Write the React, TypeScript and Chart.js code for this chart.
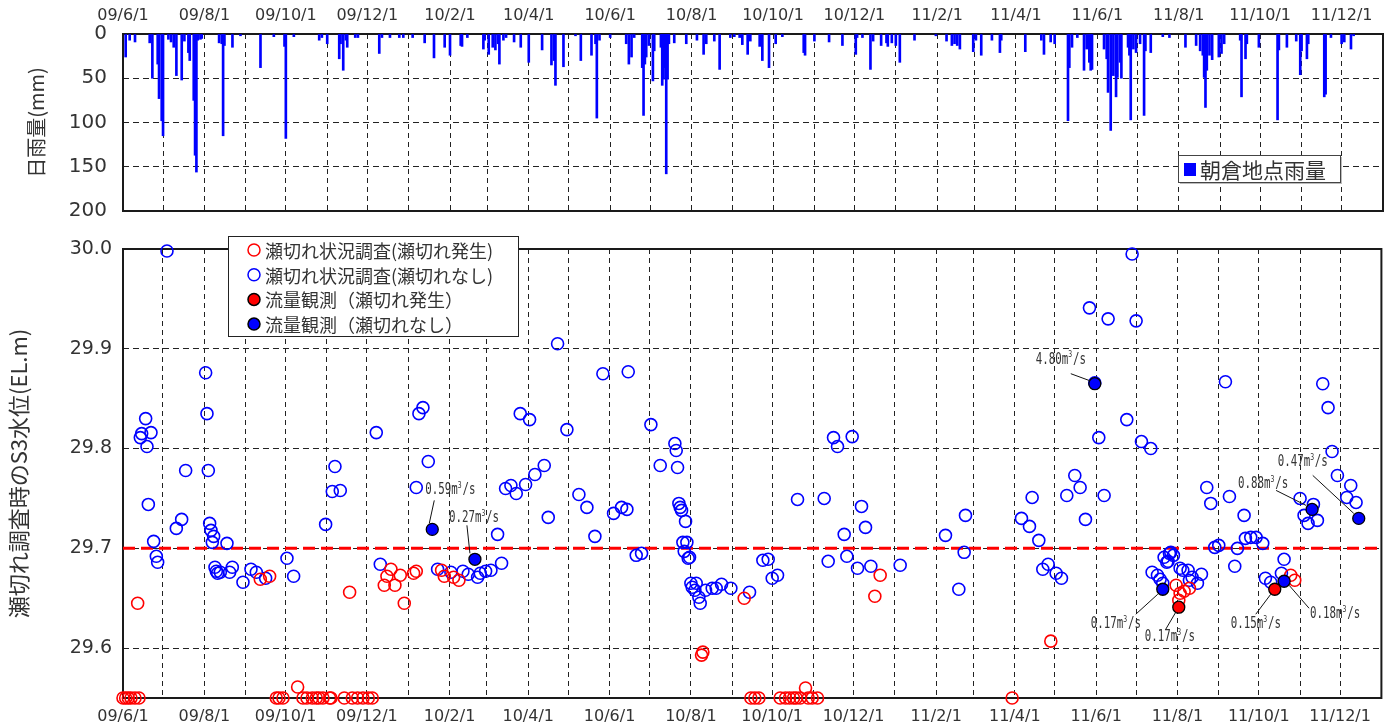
import React, { useEffect, useRef } from "react";
import { Chart, registerables } from "chart.js";

Chart.register(...registerables);

// ---------- time axis ----------
const X_START = "2009-06-01";
const X_END = "2012-01-01";
const xTickLabels = [
  "09/6/1", "09/8/1", "09/10/1", "09/12/1", "10/2/1", "10/4/1", "10/6/1", "10/8/1",
  "10/10/1", "10/12/1", "11/2/1", "11/4/1", "11/6/1", "11/8/1", "11/10/1", "11/12/1",
];

// ---------- daily rainfall (朝倉地点, mm) ----------
const rainDates = [
  "2009-06-03", "2009-06-06", "2009-06-10", "2009-06-21", "2009-06-23", "2009-06-27", "2009-06-28", "2009-06-30",
  "2009-07-01", "2009-07-05", "2009-07-07", "2009-07-09", "2009-07-11", "2009-07-15", "2009-07-17", "2009-07-20",
  "2009-07-21", "2009-07-24", "2009-07-25", "2009-07-26", "2009-07-27", "2009-07-29", "2009-07-30", "2009-08-12",
  "2009-08-14", "2009-08-15", "2009-08-16", "2009-08-22", "2009-08-28", "2009-09-12", "2009-09-22", "2009-09-30",
  "2009-10-01", "2009-10-07", "2009-10-26", "2009-10-28", "2009-11-01", "2009-11-10", "2009-11-11", "2009-11-13",
  "2009-11-15", "2009-11-16", "2009-11-22", "2009-11-24", "2009-12-10", "2009-12-12", "2009-12-18", "2009-12-25",
  "2009-12-28", "2010-01-04", "2010-01-13", "2010-01-20", "2010-01-28", "2010-02-01", "2010-02-09", "2010-02-10",
  "2010-02-14", "2010-02-26", "2010-02-27", "2010-03-02", "2010-03-05", "2010-03-07", "2010-03-09", "2010-03-10",
  "2010-03-13", "2010-03-15", "2010-03-21", "2010-03-26", "2010-04-01", "2010-04-11", "2010-04-18", "2010-04-20",
  "2010-04-21", "2010-04-27", "2010-05-06", "2010-05-10", "2010-05-18", "2010-05-21", "2010-05-22", "2010-05-24",
  "2010-06-01", "2010-06-13", "2010-06-15", "2010-06-17", "2010-06-19", "2010-06-25", "2010-06-26", "2010-06-27",
  "2010-06-28", "2010-06-30", "2010-07-03", "2010-07-04", "2010-07-09", "2010-07-10", "2010-07-11", "2010-07-12",
  "2010-07-13", "2010-07-14", "2010-07-15", "2010-07-19", "2010-07-28", "2010-08-05", "2010-08-10", "2010-08-12",
  "2010-08-18", "2010-08-22", "2010-08-30", "2010-09-02", "2010-09-06", "2010-09-08", "2010-09-12", "2010-09-14",
  "2010-09-21", "2010-09-23", "2010-09-28", "2010-10-03", "2010-10-08", "2010-10-24", "2010-10-25", "2010-11-01",
  "2010-11-12", "2010-11-22", "2010-12-02", "2010-12-03", "2010-12-07", "2010-12-13", "2010-12-15", "2010-12-21",
  "2010-12-25", "2010-12-26", "2010-12-29", "2011-01-01", "2011-01-04", "2011-01-15", "2011-01-31", "2011-02-08",
  "2011-02-12", "2011-02-14", "2011-02-16", "2011-02-18", "2011-02-28", "2011-03-02", "2011-03-06", "2011-03-14",
  "2011-03-20", "2011-03-21", "2011-04-08", "2011-04-20", "2011-04-22", "2011-04-27", "2011-04-30", "2011-05-10",
  "2011-05-11", "2011-05-13", "2011-05-17", "2011-05-22", "2011-05-24", "2011-05-26", "2011-05-27", "2011-05-28",
  "2011-06-06", "2011-06-08", "2011-06-09", "2011-06-11", "2011-06-13", "2011-06-15", "2011-06-16", "2011-06-18",
  "2011-06-19", "2011-06-24", "2011-06-25", "2011-06-26", "2011-06-28", "2011-06-30", "2011-07-03", "2011-07-06",
  "2011-07-07", "2011-07-11", "2011-07-20", "2011-07-25", "2011-08-06", "2011-08-14", "2011-08-17", "2011-08-19",
  "2011-08-20", "2011-08-21", "2011-08-22", "2011-08-24", "2011-08-26", "2011-08-31", "2011-09-02", "2011-09-04",
  "2011-09-16", "2011-09-17", "2011-09-20", "2011-09-21", "2011-09-30", "2011-10-14", "2011-10-15", "2011-10-21",
  "2011-10-28", "2011-10-31", "2011-11-01", "2011-11-05", "2011-11-06", "2011-11-18", "2011-11-19", "2011-11-23",
  "2011-12-01", "2011-12-03", "2011-12-08", "2011-12-10",
];
const rainMm = [
  26, 7, 9, 10, 50, 34, 73, 98,
  115, 6, 9, 15, 47, 52, 8, 21,
  30, 75, 137, 156, 7, 6, 5, 10,
  11, 115, 13, 15, 2, 38, 3, 14,
  118, 3, 7, 4, 11, 28, 11, 41,
  7, 15, 4, 4, 22, 4, 4, 4,
  4, 4, 10, 27, 15, 24, 13, 14,
  4, 17, 7, 23, 15, 18, 11, 34,
  7, 4, 9, 15, 32, 18, 35, 30,
  58, 37, 2, 30, 24, 11, 95, 7,
  4, 11, 34, 26, 4, 38, 92, 34,
  26, 13, 53, 19, 15, 58, 51, 38,
  158, 51, 11, 10, 11, 7, 23, 11,
  8, 40, 4, 3, 4, 12, 23, 8,
  14, 30, 38, 11, 3, 21, 24, 8,
  9, 13, 23, 4, 4, 40, 8, 13,
  10, 14, 10, 13, 32, 7, 2, 8,
  13, 11, 13, 17, 20, 7, 24, 7,
  21, 7, 20, 7, 23, 9, 11, 98,
  38, 15, 4, 41, 17, 32, 41, 40,
  17, 28, 66, 109, 47, 71, 49, 32,
  50, 15, 24, 97, 17, 21, 11, 92,
  19, 21, 3, 4, 15, 13, 19, 24,
  49, 83, 41, 24, 29, 26, 22, 11,
  7, 71, 28, 11, 15, 97, 18, 15,
  8, 46, 19, 28, 11, 71, 68, 4,
  11, 9, 17, 2,
];

// ---------- S3 water level at survey time (EL.m) ----------
// 瀬切れ状況調査（瀬切れ発生）
const surveyBreakDates = [
  "2009-06-01", "2009-06-03", "2009-06-05", "2009-06-07", "2009-06-10", "2009-06-12", "2009-06-13", "2009-09-12",
  "2009-09-19", "2009-09-24", "2009-09-26", "2009-09-29", "2009-10-10", "2009-10-14", "2009-10-17", "2009-10-21",
  "2009-10-24", "2009-10-26", "2009-10-29", "2009-11-03", "2009-11-04", "2009-11-14", "2009-11-18", "2009-11-20",
  "2009-11-24", "2009-11-28", "2009-12-02", "2009-12-05", "2009-12-14", "2009-12-16", "2009-12-19", "2009-12-22",
  "2009-12-26", "2009-12-29", "2010-01-05", "2010-01-07", "2010-01-26", "2010-01-28", "2010-02-04", "2010-02-08",
  "2010-08-09", "2010-08-10", "2010-09-10", "2010-09-15", "2010-09-18", "2010-09-21", "2010-10-07", "2010-10-11",
  "2010-10-14", "2010-10-17", "2010-10-19", "2010-10-22", "2010-10-26", "2010-10-28", "2010-10-31", "2010-11-04",
  "2010-12-17", "2010-12-21", "2011-03-30", "2011-04-28", "2011-07-31", "2011-08-02", "2011-08-03", "2011-08-06",
  "2011-08-10", "2011-10-25", "2011-10-28",
];
const surveyBreakLevels = [
  29.55, 29.55, 29.55, 29.55, 29.55, 29.645, 29.55, 29.669,
  29.672, 29.55, 29.55, 29.55, 29.561, 29.55, 29.55, 29.55,
  29.55, 29.55, 29.55, 29.55, 29.55, 29.55, 29.656, 29.55,
  29.55, 29.55, 29.55, 29.55, 29.663, 29.672, 29.679, 29.663,
  29.673, 29.645, 29.675, 29.677, 29.678, 29.672, 29.671, 29.668,
  29.593, 29.596, 29.65, 29.55, 29.55, 29.55, 29.55, 29.55,
  29.55, 29.55, 29.55, 29.55, 29.56, 29.55, 29.55, 29.55,
  29.652, 29.673, 29.55, 29.607, 29.663, 29.648, 29.655, 29.657,
  29.66, 29.673, 29.668,
];

// 瀬切れ状況調査（瀬切れなし）
const surveyFlowDates = [
  "2009-06-14", "2009-06-15", "2009-06-18", "2009-06-19", "2009-06-20", "2009-06-22", "2009-06-24", "2009-06-26",
  "2009-06-27", "2009-07-04", "2009-07-11", "2009-07-15", "2009-07-18", "2009-08-02", "2009-08-03", "2009-08-04",
  "2009-08-05", "2009-08-06", "2009-08-07", "2009-08-08", "2009-08-09", "2009-08-10", "2009-08-11", "2009-08-13",
  "2009-08-18", "2009-08-20", "2009-08-22", "2009-08-30", "2009-09-05", "2009-09-09", "2009-09-16", "2009-10-02",
  "2009-10-07", "2009-10-31", "2009-11-05", "2009-11-07", "2009-11-11", "2009-12-08", "2009-12-11", "2010-01-07",
  "2010-01-09", "2010-01-12", "2010-01-16", "2010-01-23", "2010-02-02", "2010-02-11", "2010-02-15", "2010-02-22",
  "2010-02-24", "2010-02-28", "2010-03-04", "2010-03-09", "2010-03-12", "2010-03-15", "2010-03-19", "2010-03-23",
  "2010-03-26", "2010-03-30", "2010-04-02", "2010-04-06", "2010-04-13", "2010-04-16", "2010-04-23", "2010-04-30",
  "2010-05-09", "2010-05-15", "2010-05-21", "2010-05-27", "2010-06-04", "2010-06-10", "2010-06-14", "2010-06-15",
  "2010-06-21", "2010-06-25", "2010-07-02", "2010-07-09", "2010-07-20", "2010-07-21", "2010-07-22", "2010-07-23",
  "2010-07-24", "2010-07-25", "2010-07-26", "2010-07-27", "2010-07-28", "2010-07-29", "2010-07-30", "2010-07-31",
  "2010-08-01", "2010-08-02", "2010-08-04", "2010-08-05", "2010-08-07", "2010-08-08", "2010-08-12", "2010-08-17",
  "2010-08-20", "2010-08-24", "2010-08-31", "2010-09-14", "2010-09-24", "2010-09-28", "2010-10-01", "2010-10-05",
  "2010-10-20", "2010-11-09", "2010-11-12", "2010-11-16", "2010-11-19", "2010-11-24", "2010-11-26", "2010-11-30",
  "2010-12-04", "2010-12-07", "2010-12-10", "2010-12-14", "2011-01-05", "2011-02-08", "2011-02-18", "2011-02-22",
  "2011-02-23", "2011-04-06", "2011-04-12", "2011-04-14", "2011-04-19", "2011-04-22", "2011-04-26", "2011-05-02",
  "2011-05-06", "2011-05-10", "2011-05-16", "2011-05-20", "2011-05-24", "2011-05-27", "2011-05-31", "2011-06-03",
  "2011-06-07", "2011-06-10", "2011-06-24", "2011-06-28", "2011-07-01", "2011-07-05", "2011-07-12", "2011-07-13",
  "2011-07-17", "2011-07-19", "2011-07-21", "2011-07-22", "2011-07-24", "2011-07-25", "2011-07-26", "2011-07-27",
  "2011-07-29", "2011-08-03", "2011-08-05", "2011-08-09", "2011-08-10", "2011-08-12", "2011-08-16", "2011-08-19",
  "2011-08-23", "2011-08-26", "2011-08-29", "2011-09-01", "2011-09-06", "2011-09-09", "2011-09-13", "2011-09-15",
  "2011-09-20", "2011-09-21", "2011-09-25", "2011-09-29", "2011-10-04", "2011-10-06", "2011-10-10", "2011-10-18",
  "2011-10-20", "2011-11-01", "2011-11-04", "2011-11-07", "2011-11-11", "2011-11-14", "2011-11-18", "2011-11-22",
  "2011-11-25", "2011-11-29", "2011-12-06", "2011-12-09", "2011-12-13",
];
const surveyFlowLevels = [
  29.811, 29.815, 29.83, 29.802, 29.744, 29.816, 29.707, 29.692,
  29.686, 29.998, 29.72, 29.729, 29.778, 29.876, 29.835, 29.778,
  29.725, 29.718, 29.706, 29.712, 29.681, 29.677, 29.675, 29.676,
  29.705, 29.676, 29.681, 29.666, 29.679, 29.676, 29.67, 29.69,
  29.672, 29.724, 29.757, 29.782, 29.758, 29.816, 29.684, 29.761,
  29.835, 29.841, 29.787, 29.679, 29.676, 29.677, 29.674, 29.671,
  29.675, 29.677, 29.678, 29.714, 29.685, 29.76, 29.763, 29.755,
  29.835, 29.764, 29.829, 29.774, 29.783, 29.731, 29.905, 29.819,
  29.754, 29.741, 29.712, 29.875, 29.735, 29.741, 29.739, 29.877,
  29.693, 29.695, 29.824, 29.783, 29.805, 29.798, 29.781, 29.745,
  29.741, 29.738, 29.706, 29.697, 29.727, 29.706, 29.69, 29.691,
  29.665, 29.661, 29.658, 29.665, 29.651, 29.645, 29.658, 29.66,
  29.66, 29.664, 29.66, 29.656, 29.688, 29.689, 29.67, 29.673,
  29.749, 29.75, 29.687, 29.811, 29.802, 29.714, 29.692, 29.812,
  29.68, 29.742, 29.721, 29.682, 29.683, 29.713, 29.659, 29.696,
  29.733, 29.73, 29.722, 29.751, 29.708, 29.679, 29.684, 29.675,
  29.67, 29.753, 29.773, 29.761, 29.729, 29.941, 29.866, 29.811,
  29.753, 29.93, 29.829, 29.995, 29.928, 29.807, 29.8, 29.676,
  29.673, 29.669, 29.665, 29.691, 29.686, 29.687, 29.695, 29.696,
  29.693, 29.68, 29.678, 29.678, 29.668, 29.671, 29.665, 29.674,
  29.761, 29.745, 29.701, 29.703, 29.867, 29.752, 29.682, 29.7,
  29.733, 29.71, 29.711, 29.711, 29.705, 29.67, 29.666, 29.675,
  29.689, 29.75, 29.733, 29.725, 29.744, 29.728, 29.865, 29.841,
  29.797, 29.773, 29.751, 29.763, 29.746,
];

// 流量観測（瀬切れ発生） with measured discharge (m3/s)
const gaugingBreakDates = ["2011-08-02", "2011-10-13"];
const gaugingBreakLevels = [29.641, 29.659];
const gaugingBreakQ = ["0.17", "0.15"];

// 流量観測（瀬切れなし） with measured discharge (m3/s)
const gaugingFlowDates = ["2010-01-19", "2010-02-20", "2011-05-31", "2011-07-21", "2011-10-20", "2011-11-10", "2011-12-15"];
const gaugingFlowLevels = [29.719, 29.689, 29.865, 29.659, 29.667, 29.739, 29.73];
const gaugingFlowQ = ["0.59", "0.27", "4.80", "0.17", "0.18", "0.88", "0.47"];

// Reference level drawn as the red dashed line
const thresholdLevel = 29.7;

// ---------- label placement for discharge callouts (pixel offsets from the point) ----------
type Callout = { t: [number, number]; a: [number, number]; b: [number, number] };
const gaugingBreakCallouts: Callout[] = [
  { t: [-34, 30], a: [-13, 22], b: [-3, 5] },
  { t: [-44, 35], a: [-19, 25], b: [-4, 5] },
];
const gaugingFlowCallouts: Callout[] = [
  { t: [-7, -39], a: [2, -29], b: [-3, -6] },
  { t: [-26, -41], a: [-8, -34], b: [-5, -6] },
  { t: [-59, -24], a: [-24, -10], b: [-5, -3] },
  { t: [-72, 35], a: [-27, 25], b: [-5, 5] },
  { t: [26, 33], a: [25, 27], b: [5, 4] },
  { t: [-74, -25], a: [-36, -19], b: [-6, -4] },
  { t: [-81, -56], a: [-46, -43], b: [-5, -5] },
];

// ---------- helpers ----------
const DAY_MS = 86400000;
const t0 = Date.parse(X_START + "T00:00:00Z");
const dayOf = (d: string) => Math.round((Date.parse(d + "T00:00:00Z") - t0) / DAY_MS);
const pad2 = (n: number) => String(n).padStart(2, "0");
const dayOfLabel = (l: string) => {
  const [y, m, d] = l.split("/").map(Number);
  return dayOf(`${2000 + y}-${pad2(m)}-${pad2(d)}`);
};
const X_MAX = dayOf(X_END);

// month-start gridlines
const gridDays: number[] = [];
for (let y = 2009, m = 6; y < 2012; ) {
  gridDays.push(dayOf(`${y}-${pad2(m)}-01`));
  m++;
  if (m > 12) { m = 1; y++; }
}
const labelByDay = new Map<number, string>(xTickLabels.map((l) => [dayOfLabel(l), l]));

const pts = (dates: string[], vals: number[]) => dates.map((d, i) => ({ x: dayOf(d), y: vals[i] }));

const TEXT = "#333";
const GRID = "#222";
const CJK = "'Noto Sans CJK JP', 'Noto Sans CJK SC', sans-serif";
const NUM = "'DejaVu Sans', sans-serif";
const W = 1389;
const H = 726;
const MARK_R = 6;

function xAxis(position: "top" | "bottom", height: number): any {
  return {
    type: "linear",
    position,
    min: 0,
    max: X_MAX,
    offset: false,
    afterBuildTicks: (s: any) => { s.ticks = gridDays.map((v) => ({ value: v })); },
    afterFit: (s: any) => { s.height = height; s.paddingLeft = 0; s.paddingRight = 0; },
    ticks: {
      autoSkip: false, maxRotation: 0, minRotation: 0, padding: 9, color: TEXT,
      font: { family: NUM, size: 16 },
      callback: (v: number) => labelByDay.get(v) ?? "",
    },
    grid: { color: GRID, lineWidth: 1, drawTicks: false, offset: false },
    border: { display: false, dash: [5, 4] },
  };
}

function yAxis(opts: any): any {
  return {
    type: "linear",
    position: "left",
    min: opts.min,
    max: opts.max,
    reverse: !!opts.reverse,
    afterBuildTicks: (s: any) => { s.ticks = opts.ticks.map((v: number) => ({ value: v })); },
    afterFit: (s: any) => { s.width = 123; s.paddingTop = 0; s.paddingBottom = 0; },
    ticks: {
      padding: opts.padding, color: TEXT, font: { family: NUM, size: opts.size },
      callback: opts.format,
    },
    grid: { color: GRID, lineWidth: 1, drawTicks: false },
    border: { display: false, dash: [6, 4] },
    title: {
      display: true, text: opts.title, color: TEXT,
      font: { family: CJK, size: opts.titleSize },
      padding: { top: opts.titleOffset, bottom: 0 },
    },
  };
}

const framePlugin = {
  id: "frame",
  beforeDatasetsDraw(chart: any) {
    const { ctx, chartArea: a } = chart;
    ctx.save();
    ctx.strokeStyle = "#1a1a1a";
    ctx.lineWidth = 2;
    ctx.strokeRect(a.left, a.top, a.right - a.left, a.bottom - a.top);
    ctx.restore();
  },
};

const rainLegend = {
  id: "rainLegend",
  afterDraw(chart: any) {
    const { ctx, chartArea: a } = chart;
    const ds = chart.data.datasets[0];
    const left = a.right - 205;
    const top = a.bottom - 56;
    ctx.save();
    ctx.fillStyle = "#bbb";
    ctx.fillRect(left + 2, top + 2, 162, 27);
    ctx.fillStyle = "#fff";
    ctx.fillRect(left, top, 162, 27);
    ctx.strokeStyle = "#444";
    ctx.lineWidth = 1;
    ctx.strokeRect(left + 0.5, top + 0.5, 162, 27);
    ctx.fillStyle = ds.backgroundColor;
    ctx.fillRect(left + 6, top + 8, 12, 13);
    ctx.fillStyle = TEXT;
    ctx.font = `21px ${CJK}`;
    ctx.textBaseline = "middle";
    ctx.fillText(ds.label, left + 22, top + 15);
    ctx.restore();
  },
};

const levelLegend = {
  id: "levelLegend",
  afterDraw(chart: any) {
    const { ctx, chartArea: a } = chart;
    const order = [2, 3, 0, 1];
    const left = a.left + 105;
    const top = a.top - 13;
    ctx.save();
    ctx.fillStyle = "#fff";
    ctx.fillRect(left, top, 290, 100);
    ctx.strokeStyle = "#222";
    ctx.lineWidth = 1;
    ctx.strokeRect(left + 0.5, top + 0.5, 290, 100);
    order.forEach((idx, i) => {
      const ds = chart.data.datasets[idx];
      const y = top + 14 + i * 24.7;
      ctx.beginPath();
      ctx.arc(left + 26, y, MARK_R, 0, Math.PI * 2);
      if (ds.pointBackgroundColor !== "rgba(0,0,0,0)") {
        ctx.fillStyle = ds.pointBackgroundColor;
        ctx.fill();
      }
      ctx.strokeStyle = ds.pointBorderColor;
      ctx.lineWidth = 1.5;
      ctx.stroke();
      ctx.fillStyle = TEXT;
      ctx.font = `18px ${CJK}`;
      ctx.textBaseline = "middle";
      ctx.fillText(ds.label, left + 37, y + 1);
    });
    ctx.restore();
  },
};

function drawCallout(ctx: CanvasRenderingContext2D, px: number, py: number, q: string, c: Callout) {
  ctx.save();
  ctx.strokeStyle = "#111";
  ctx.lineWidth = 1;
  ctx.beginPath();
  ctx.moveTo(px + c.a[0], py + c.a[1]);
  ctx.lineTo(px + c.b[0], py + c.b[1]);
  ctx.stroke();
  ctx.translate(px + c.t[0], py + c.t[1]);
  ctx.scale(0.72, 1);
  ctx.fillStyle = TEXT;
  ctx.textBaseline = "middle";
  ctx.textAlign = "left";
  const big = "15px 'DejaVu Sans Mono', monospace";
  const small = "9px 'DejaVu Sans Mono', monospace";
  let x = 0;
  ctx.font = big;
  const head = q + "m";
  ctx.fillText(head, x, 0);
  x += ctx.measureText(head).width;
  ctx.font = small;
  ctx.fillText("3", x, -5);
  x += ctx.measureText("3").width + 1;
  ctx.font = big;
  ctx.fillText("/s", x, 0);
  ctx.restore();
}

const calloutPlugin = {
  id: "callouts",
  afterDatasetsDraw(chart: any) {
    const { ctx, scales } = chart;
    const put = (dates: string[], levels: number[], qs: string[], cs: Callout[]) => {
      dates.forEach((d, i) => {
        const px = scales.x.getPixelForValue(dayOf(d));
        const py = scales.y.getPixelForValue(levels[i]);
        drawCallout(ctx, px, py, qs[i], cs[i]);
      });
    };
    put(gaugingFlowDates, gaugingFlowLevels, gaugingFlowQ, gaugingFlowCallouts);
    put(gaugingBreakDates, gaugingBreakLevels, gaugingBreakQ, gaugingBreakCallouts);
  },
};

export default function App() {
  const topRef = useRef<HTMLCanvasElement>(null);
  const botRef = useRef<HTMLCanvasElement>(null);

  useEffect(() => {
    const rainChart = new Chart(topRef.current as HTMLCanvasElement, {
      type: "bar",
      data: {
        datasets: [
          {
            label: "朝倉地点雨量",
            data: pts(rainDates, rainMm) as any,
            backgroundColor: "#0000ff",
            borderWidth: 0,
            barThickness: 2,
          } as any,
        ],
      },
      options: {
        animation: false,
        responsive: false,
        devicePixelRatio: 1,
        events: [],
        layout: { padding: { left: 0, right: W - 1383, top: 0, bottom: H - 211 } },
        plugins: { legend: { display: false }, tooltip: { enabled: false } },
        scales: {
          x: xAxis("top", 34),
          y: yAxis({
            min: 0, max: 200, reverse: true, ticks: [0, 50, 100, 150, 200], padding: 16, size: 20,
            format: (v: number) => String(v), title: "日雨量(mm)", titleOffset: 24, titleSize: 20,
          }),
        },
      } as any,
      plugins: [framePlugin, rainLegend],
    });

    const hollow = "rgba(0,0,0,0)";
    const levelChart = new Chart(botRef.current as HTMLCanvasElement, {
      type: "scatter",
      data: {
        datasets: [
          {
            label: "流量観測（瀬切れ発生）",
            data: pts(gaugingBreakDates, gaugingBreakLevels),
            pointRadius: MARK_R, pointBorderWidth: 1.3,
            pointBackgroundColor: "#ff0000", pointBorderColor: "#000",
            clip: false,
          },
          {
            label: "流量観測（瀬切れなし）",
            data: pts(gaugingFlowDates, gaugingFlowLevels),
            pointRadius: MARK_R, pointBorderWidth: 1.3,
            pointBackgroundColor: "#0000ff", pointBorderColor: "#000",
            clip: false,
          },
          {
            label: "瀬切れ状況調査(瀬切れ発生)",
            data: pts(surveyBreakDates, surveyBreakLevels),
            pointRadius: MARK_R, pointBorderWidth: 1.6,
            pointBackgroundColor: hollow, pointBorderColor: "#ff0000",
            clip: false,
          },
          {
            label: "瀬切れ状況調査(瀬切れなし)",
            data: pts(surveyFlowDates, surveyFlowLevels),
            pointRadius: MARK_R, pointBorderWidth: 1.6,
            pointBackgroundColor: hollow, pointBorderColor: "#0000ff",
            clip: false,
          },
          {
            label: "threshold",
            data: [{ x: 0, y: thresholdLevel }, { x: X_MAX, y: thresholdLevel }],
            showLine: true,
            borderColor: "#ff0000",
            borderWidth: 3,
            borderDash: [12, 6],
            pointRadius: 0,
          },
        ] as any,
      },
      options: {
        animation: false,
        responsive: false,
        devicePixelRatio: 1,
        events: [],
        layout: { padding: { left: 0, right: W - 1383, top: 249, bottom: 0 } },
        plugins: { legend: { display: false }, tooltip: { enabled: false } },
        scales: {
          x: xAxis("bottom", H - 698),
          y: yAxis({
            min: 29.55, max: 30.0, ticks: [29.6, 29.7, 29.8, 29.9, 30.0], padding: 11, size: 19,
            format: (v: number) => v.toFixed(1), title: "瀬切れ調査時のS3水位(EL.m)", titleOffset: 5, titleSize: 22,
          }),
        },
      } as any,
      plugins: [framePlugin, calloutPlugin, levelLegend],
    });

    return () => {
      rainChart.destroy();
      levelChart.destroy();
    };
  }, []);

  return (
    <div style={{ position: "absolute", left: 0, top: 0, width: W, height: H, background: "#fff" }}>
      <canvas ref={topRef} width={W} height={H} style={{ position: "absolute", left: 0, top: 0 }} />
      <canvas ref={botRef} width={W} height={H} style={{ position: "absolute", left: 0, top: 0 }} />
    </div>
  );
}
